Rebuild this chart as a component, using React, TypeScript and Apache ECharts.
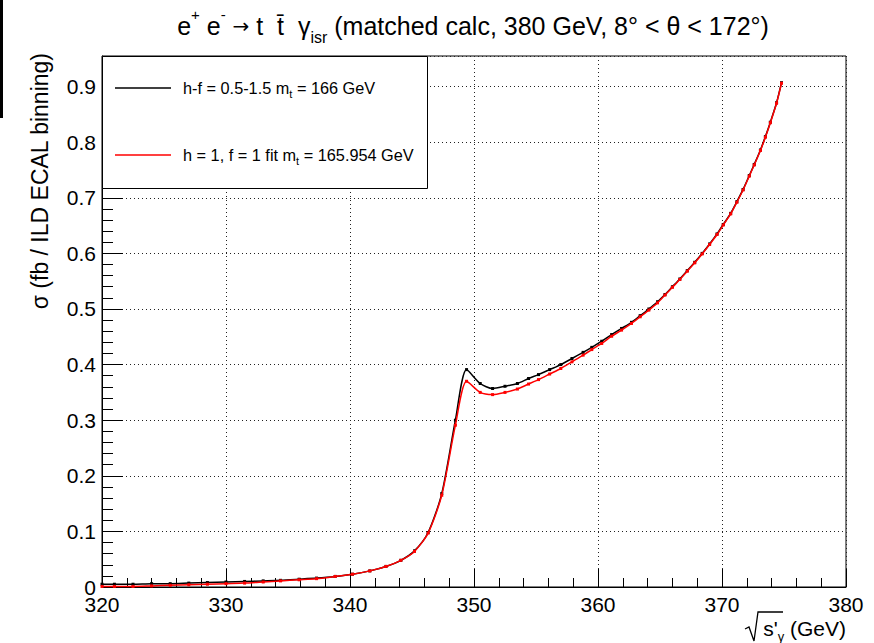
import React, { useEffect, useRef } from "react";
import * as echarts from "echarts";

const xs = [
  320.0, 321.0, 322.5, 324.0, 325.5, 327.0, 328.5, 330.0, 331.5, 333.0, 334.4, 335.9, 337.3, 338.8,
  340.2, 341.6, 342.9, 344.1, 345.2, 346.3, 347.4, 348.5, 349.4, 350.5, 351.5, 352.5, 353.5, 354.4,
  355.2, 356.1, 357.0, 357.9, 358.8, 359.5, 360.3, 361.1, 361.9, 362.7, 363.4, 364.1, 364.8, 365.4,
  366.0, 366.6, 367.2, 367.8, 368.4, 369.0, 369.6, 370.1, 370.7, 371.2, 371.7, 372.2, 372.6, 373.1,
  373.5, 373.9, 374.4, 374.8,
];

const blackVals = [
  0.005, 0.005, 0.005, 0.006, 0.006, 0.007, 0.008, 0.009, 0.010, 0.011, 0.012, 0.014, 0.016, 0.019,
  0.023, 0.029, 0.037, 0.048, 0.065, 0.098, 0.168, 0.300, 0.391, 0.366, 0.357, 0.361, 0.366, 0.375,
  0.382, 0.391, 0.400, 0.411, 0.422, 0.431, 0.442, 0.454, 0.465, 0.476, 0.488, 0.500, 0.513, 0.526,
  0.540, 0.554, 0.569, 0.584, 0.600, 0.617, 0.635, 0.652, 0.672, 0.693, 0.715, 0.740, 0.760, 0.786,
  0.810, 0.836, 0.871, 0.907,
];

const redVals = [
  0.001, 0.001, 0.001, 0.002, 0.003, 0.004, 0.005, 0.006, 0.007, 0.009, 0.011, 0.013, 0.015, 0.019,
  0.023, 0.029, 0.037, 0.048, 0.064, 0.097, 0.165, 0.291, 0.370, 0.350, 0.346, 0.350, 0.356, 0.365,
  0.373, 0.383, 0.393, 0.405, 0.417, 0.427, 0.438, 0.451, 0.462, 0.474, 0.486, 0.498, 0.511, 0.525,
  0.539, 0.553, 0.568, 0.583, 0.599, 0.616, 0.634, 0.651, 0.671, 0.692, 0.714, 0.739, 0.759, 0.785,
  0.809, 0.835, 0.870, 0.906,
];

const xTicks = [320, 330, 340, 350, 360, 370, 380];
const yTicks = [0, 0.1, 0.2, 0.3, 0.4, 0.5, 0.6, 0.7, 0.8, 0.9];

const seriesNames = ["h-f = 0.5-1.5 m_t = 166 GeV", "h = 1, f = 1 fit m_t = 165.954 GeV"];

const FONT = '"Liberation Sans", Arial, Helvetica, sans-serif';

export default function App() {
  const ref = useRef<HTMLDivElement>(null);
  useEffect(() => {
    if (!ref.current) return;
    const chart = echarts.init(ref.current, undefined, { renderer: "svg" });
    const blackData = xs.map((x, i) => [x, blackVals[i]]);
    const redData = xs.map((x, i) => [x, redVals[i]]);
    const gridLine = { show: true, lineStyle: { color: "#222", type: [1, 3] as any, width: 1 } };
    const option: any = {
      animation: false,
      backgroundColor: "#fff",
      grid: { left: 102, right: 28, top: 56, bottom: 56, show: true, borderColor: "#000", borderWidth: 1, backgroundColor: "transparent" },
      xAxis: {
        type: "value",
        min: xTicks[0],
        max: xTicks[xTicks.length - 1],
        interval: 10,
        axisLine: { show: true, lineStyle: { color: "#000", width: 1 } },
        axisTick: { show: true, inside: true, length: 18, lineStyle: { color: "#000" } },
        minorTick: { show: true, splitNumber: 5, length: 9, lineStyle: { color: "#000" } },
        splitLine: gridLine,
        axisLabel: { color: "#000", fontFamily: FONT, fontSize: 21, margin: 7 },
      },
      yAxis: {
        type: "value",
        min: 0,
        max: 0.955,
        interval: 0.1,
        axisLine: { show: true, lineStyle: { color: "#000", width: 1 } },
        axisTick: { show: true, inside: true, length: 21, lineStyle: { color: "#000" } },
        minorTick: { show: true, splitNumber: 5, length: 11, lineStyle: { color: "#000" } },
        splitLine: gridLine,
        axisLabel: {
          color: "#000",
          fontFamily: FONT,
          fontSize: 21,
          margin: 6,
          showMaxLabel: false,
          formatter: (v: number) => {
            const t = yTicks.find((y) => Math.abs(y - v) < 1e-6);
            return t === undefined ? "" : String(Number(t.toFixed(1)));
          },
        },
      },
      series: [
        {
          name: seriesNames[0],
          type: "line",
          data: blackData,
          smooth: 0.25,
          symbol: "rect",
          symbolSize: 3,
          showSymbol: true,
          lineStyle: { color: "#000", width: 1.5 },
          itemStyle: { color: "#000" },
          z: 2,
        },
        {
          name: seriesNames[1],
          type: "line",
          data: redData,
          smooth: 0.25,
          symbol: "rect",
          symbolSize: 3,
          showSymbol: true,
          lineStyle: { color: "#ff0000", width: 1.5 },
          itemStyle: { color: "#ff0000" },
          z: 3,
        },
      ],
      graphic: [
        { type: "rect", shape: { x: 0, y: 0, width: 3, height: 118 }, style: { fill: "#000" }, z: 100 },
        {
          type: "text",
          x: 473,
          y: 26,
          style: {
            text: "{a|e}{sup|+}{a| e}{sup|-}{a| }{ar|→}{a| t  t̄  γ}{sub|isr}{a| (matched calc, 380 GeV, 8° < θ < 172°)}",
            align: "center",
            verticalAlign: "middle",
            fill: "#000",
            rich: {
              a: { fontFamily: FONT, fontSize: 25, lineHeight: 38, verticalAlign: "middle", fill: "#000" },
              ar: { fontFamily: '"DejaVu Sans", sans-serif', fontSize: 20, lineHeight: 38, verticalAlign: "middle", fill: "#000" },
              sup: { fontFamily: FONT, fontSize: 15, lineHeight: 15, verticalAlign: "top", fill: "#000" },
              sub: { fontFamily: FONT, fontSize: 16, lineHeight: 16, verticalAlign: "bottom", fill: "#000" },
            },
          },
          z: 100,
        },
        {
          type: "text",
          x: 40,
          y: 53,
          rotation: Math.PI / 2,
          style: {
            text: "σ (fb / ILD ECAL binning)",
            align: "right",
            verticalAlign: "middle",
            fontFamily: FONT,
            fontSize: 23,
            fill: "#000",
          },
          z: 100,
        },
        {
          type: "text",
          x: 846,
          y: 628,
          style: {
            text: "{a|s'}{sub|γ}{a| (GeV)}",
            align: "right",
            verticalAlign: "middle",
            fill: "#000",
            rich: {
              a: { fontFamily: FONT, fontSize: 21, lineHeight: 30, verticalAlign: "middle", fill: "#000" },
              sub: { fontFamily: FONT, fontSize: 13, lineHeight: 13, verticalAlign: "bottom", fill: "#000" },
            },
          },
          z: 100,
        },
        {
          type: "polyline",
          shape: { points: [[745, 629], [749, 627], [754, 641], [758, 612], [783, 612]] },
          style: { stroke: "#000", lineWidth: 1.3, fill: "none" },
          z: 100,
        },
        // legend box
        {
          type: "rect",
          shape: { x: 102.5, y: 56.5, width: 325, height: 132 },
          style: { fill: "#fff", stroke: "#000", lineWidth: 1 },
          z: 50,
        },
        { type: "line", shape: { x1: 115, y1: 88, x2: 171, y2: 88 }, style: { stroke: "#000", lineWidth: 1.5 }, z: 51 },
        { type: "line", shape: { x1: 115, y1: 155, x2: 171, y2: 155 }, style: { stroke: "#ff0000", lineWidth: 1.5 }, z: 51 },
        {
          type: "text",
          x: 183,
          y: 88,
          style: {
            text: "{a|h-f = 0.5-1.5 m}{sub|t}{a| = 166 GeV}",
            align: "left",
            verticalAlign: "middle",
            fill: "#000",
            rich: {
              a: { fontFamily: FONT, fontSize: 16.3, lineHeight: 22, verticalAlign: "middle", fill: "#000" },
              sub: { fontFamily: FONT, fontSize: 11, lineHeight: 11, verticalAlign: "bottom", fill: "#000" },
            },
          },
          z: 51,
        },
        {
          type: "text",
          x: 183,
          y: 155,
          style: {
            text: "{a|h = 1, f = 1 fit m}{sub|t}{a| = 165.954 GeV}",
            align: "left",
            verticalAlign: "middle",
            fill: "#000",
            rich: {
              a: { fontFamily: FONT, fontSize: 16.3, lineHeight: 22, verticalAlign: "middle", fill: "#000" },
              sub: { fontFamily: FONT, fontSize: 11, lineHeight: 11, verticalAlign: "bottom", fill: "#000" },
            },
          },
          z: 51,
        },
      ],
    };
    chart.setOption(option);
    return () => chart.dispose();
  }, []);
  return <div ref={ref} style={{ position: "fixed", left: 0, top: 0, width: 874, height: 643 }} />;
}
